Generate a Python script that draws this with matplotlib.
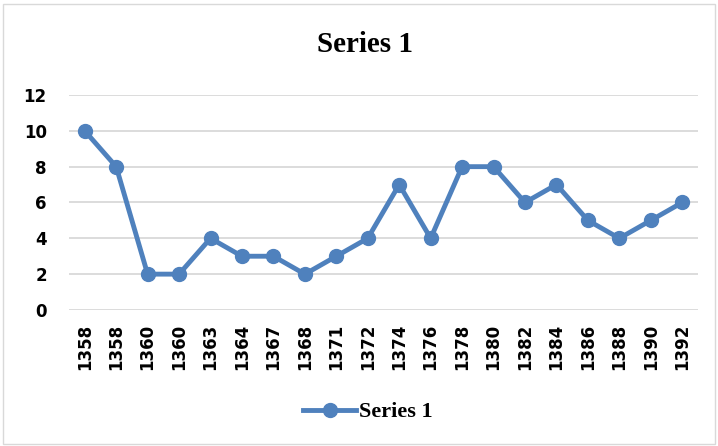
"""Line chart: Series 1 by year."""

import matplotlib.pyplot as plt
from matplotlib.patches import Rectangle

years = ["1358", "1358", "1360", "1360", "1363", "1364", "1367", "1368", "1371", "1372",
         "1374", "1376", "1378", "1380", "1382", "1384", "1386", "1388", "1390", "1392"]
values = [10, 8, 2, 2, 4, 3, 3, 2, 3, 4, 7, 4, 8, 8, 6, 7, 5, 4, 5, 6]
y_ticks = [0, 2, 4, 6, 8, 10, 12]

BLUE = "#4F81BD"
SERIF = "Liberation Serif"
SANS = "DejaVu Sans"

fig = plt.figure(figsize=(7.18, 4.46), dpi=100)
ax = fig.add_axes([0.0961, 0.305, 0.876, 0.482])

x = list(range(len(years)))
line, = ax.plot(x, values, color=BLUE, lw=3.5, marker="o", markersize=10,
                label="Series 1", zorder=3)

ax.set_xlim(-0.5, len(years) - 0.5)
ax.set_ylim(0, 12)
ax.set_yticks(y_ticks)
ax.set_yticklabels([str(t) for t in y_ticks], fontfamily=SANS, fontweight="bold", fontsize=12)
ax.set_xticks(x)
ax.set_xticklabels(years, rotation=90, fontfamily=SANS, fontweight="bold", fontsize=12)
ax.tick_params(axis="y", length=0, pad=16)
ax.tick_params(axis="x", length=0, pad=10)
ax.yaxis.grid(True, color="#D9D9D9", lw=1.3)
ax.set_axisbelow(True)
for s in ax.spines.values():
    s.set_visible(False)

fig.text(0.508, 0.9, "Series 1", ha="center", va="center",
         fontfamily=SERIF, fontweight="bold", fontsize=21)

fig.legend(handles=[line], loc="center", bbox_to_anchor=(0.512, 0.076), frameon=False,
           prop={"family": SERIF, "weight": "bold", "size": 16},
           handlelength=2.4, handletextpad=0.1)

fig.patches.append(Rectangle((0.004, 0.004), 0.992, 0.988, transform=fig.transFigure,
                             fill=False, edgecolor="#D9D9D9", lw=1))

fig.savefig("out.png", dpi=100)
